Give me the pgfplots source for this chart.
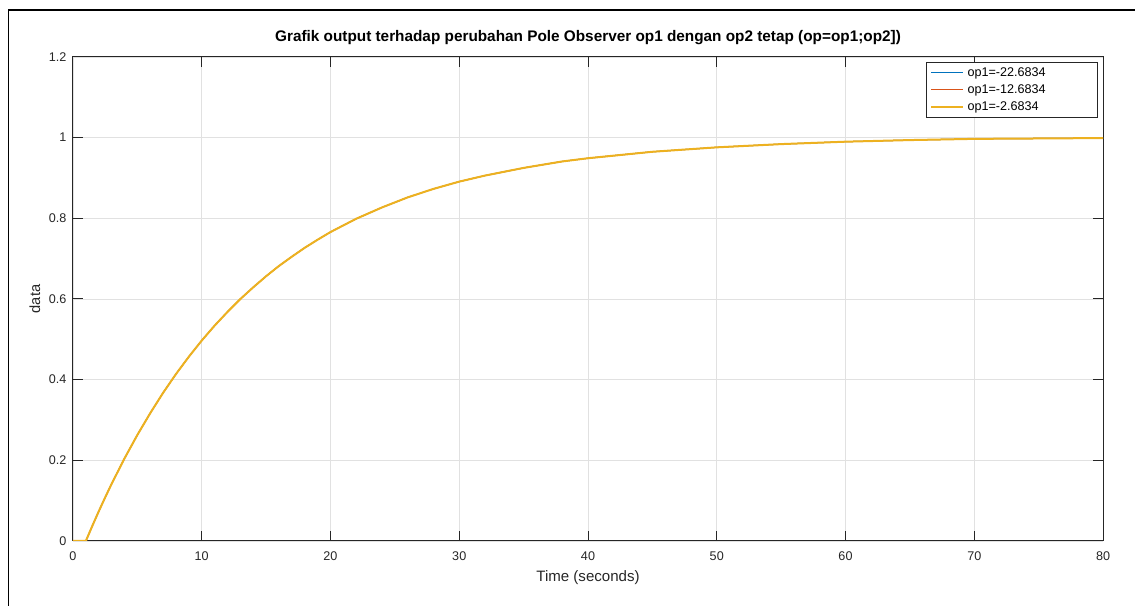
\documentclass[border=0pt]{standalone}
\usepackage{fontspec}
\setmainfont{Liberation Sans}
\usepackage{pgfplots}
\pgfplotsset{compat=1.18}
\definecolor{mblue}{RGB}{0,114,189}
\definecolor{mred}{RGB}{217,83,25}
\definecolor{myellow}{RGB}{237,177,32}
\definecolor{axgray}{RGB}{38,38,38}
\definecolor{gridgray}{RGB}{225,225,225}
\pgfplotstableread{
t v
0 0
1 0
1.5 0.0374
2 0.0735
2.5 0.1082
3 0.1416
4 0.2047
5 0.263
6 0.317
7 0.3675
8 0.414
9 0.457
10 0.497
11 0.534
12 0.568
13 0.600
14 0.629
15 0.6565
16 0.682
17 0.705
18 0.727
19 0.747
20 0.766
22 0.799
24 0.827
26 0.852
28 0.873
30 0.891
32 0.906
35 0.925
38 0.941
40 0.949
45 0.965
50 0.976
55 0.984
60 0.990
65 0.994
70 0.997
75 0.998
80 0.999
}\datatable
\begin{document}
\begin{tikzpicture}
\useasboundingbox (0pt,0pt) rectangle (851.25pt,454.5pt);
\draw[line width=1.2pt,black] (6.4pt,0pt) -- (6.4pt,447pt) -- (851.25pt,447pt);
\begin{axis}[
  at={(54.75pt,48.75pt)}, anchor=south west,
  scale only axis, width=772.5pt, height=363pt,
  xmin=0, xmax=80, ymin=0, ymax=1.2,
  xtick={0,10,20,30,40,50,60,70,80},
  ytick={0,0.2,0.4,0.6,0.8,1,1.2},
  yticklabels={0,0.2,0.4,0.6,0.8,1,1.2},
  tick align=inside, tick pos=both,
  xticklabel pos=lower, yticklabel pos=left,
  major tick length=7.5pt,
  grid=major,
  major grid style={color=gridgray, line width=0.5pt},
  axis line style={color=axgray, line width=0.75pt},
  tick style={color=axgray, line width=0.75pt},
  ticklabel style={font=\fontsize{9.45}{11}\selectfont, text=axgray},
  xticklabel style={yshift=-4.5pt},
  yticklabel style={xshift=-1.5pt},
  /pgf/number format/assume math mode=true,
  title={Grafik output terhadap perubahan Pole Observer op1 dengan op2 tetap (op=op1;op2])},
  title style={font=\fontsize{11.5}{13}\selectfont\bfseries, at={(axis description cs:0.5,1.0227)}, anchor=center, yshift=0pt, inner sep=0pt},
  xlabel={Time (seconds)},
  xlabel style={font=\fontsize{11.3}{13}\selectfont, text=axgray, at={(axis description cs:0.5,-0.0764)}, anchor=center, inner sep=0pt},
  ylabel={data},
  ylabel style={font=\fontsize{11}{13}\selectfont, text=axgray, at={(axis description cs:-0.0369,0.5)}, anchor=center, inner sep=0pt},
  legend style={at={(axis description cs:0.9951,0.9897)}, anchor=north east, draw=axgray, line width=0.5pt,
    font=\fontsize{9.45}{11}\selectfont, row sep=3.75pt, column sep=2.5pt, inner xsep=3pt, inner ysep=3.5pt,
    nodes={inner sep=0pt, text height=7pt, text depth=2pt}},
  legend cell align=left,
  legend image code/.code={\draw[#1] (0pt,0pt) -- (24pt,0pt);},
]
\addplot[mblue, line width=0.75pt, forget plot] table[x=t,y=v] {\datatable};
\addplot[mred, line width=0.75pt, forget plot] table[x=t,y=v] {\datatable};
\addplot[myellow, line width=1.5pt, forget plot] table[x=t,y=v] {\datatable};
\addlegendimage{mblue, line width=0.75pt}
\addlegendentry{op1=-22.6834\hspace*{36pt}}
\addlegendimage{mred, line width=0.75pt}
\addlegendentry{op1=-12.6834}
\addlegendimage{myellow, line width=1.5pt}
\addlegendentry{op1=-2.6834}
\end{axis}
\end{tikzpicture}
\end{document}
